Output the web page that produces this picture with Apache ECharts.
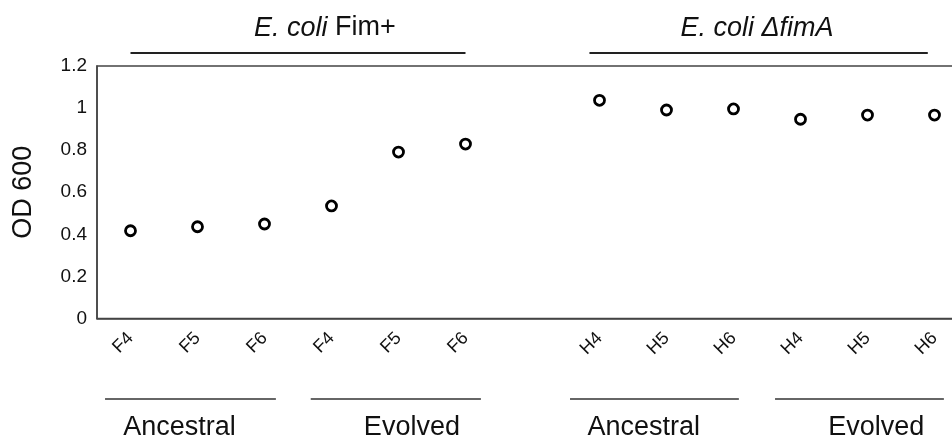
<!DOCTYPE html>
<html>
<head>
<meta charset="utf-8">
<script src="https://cdn.jsdelivr.net/npm/echarts@6/dist/echarts.min.js"></script>
<style>
html,body{margin:0;padding:0;background:#fff;}
#chart{width:952px;height:441px;}
</style>
</head>
<body>
<div id="chart"></div>
<script>
// ---- data ----
const categories = ['F4','F5','F6','F4','F5','F6','','H4','H5','H6','H4','H5','H6'];
const odValues = [0.417,0.436,0.449,0.535,0.791,0.829,null,1.037,0.991,0.996,0.947,0.967,0.967];
const yTicks = [0,0.2,0.4,0.6,0.8,1,1.2];
const yAxisTitle = 'OD 600';
// header groups (category-unit spans)
const headerLabels = ['{i|E. coli} Fim+', '{i|E. coli ΔfimA}'];
const headerSpans = [[0,5],[6.85,11.9]];
const headerCenters = [2.9, 9.35];
// bottom groups
const bottomLabels = ['Ancestral','Evolved','Ancestral','Evolved'];
const bottomSpans = [[-0.38,2.17],[2.69,5.23],[6.56,9.08],[9.62,12.14]];
const bottomCenters = [0.73,4.2,7.66,11.13];

const FONT = 'Liberation Sans, Arial, sans-serif';
const chart = echarts.init(document.getElementById('chart'), null, {renderer:'canvas'});
const option = {
  animation:false,
  backgroundColor:'#fff',
  grid:{left:97, top:66, width:871, height:252.5, show:true, borderColor:'#444', borderWidth:1.5,
        backgroundColor:'transparent', containLabel:false, outerBoundsMode:'none'},
  xAxis:{
    type:'category', data:categories, boundaryGap:true,
    axisLine:{show:true, lineStyle:{color:'#444', width:1.5}},
    axisTick:{show:false},
    axisLabel:{rotate:45, margin:17, fontSize:18, color:'#111', fontFamily:FONT, interval:0},
    splitLine:{show:false}
  },
  yAxis:{
    type:'value', min:yTicks[0], max:yTicks[yTicks.length-1], interval:0.2,
    axisLine:{show:true, lineStyle:{color:'#444', width:1.5}},
    axisTick:{show:false},
    splitLine:{show:false},
    axisLabel:{fontSize:19, color:'#111', fontFamily:FONT, margin:10},
    name:yAxisTitle, nameLocation:'middle', nameGap:60, nameRotate:90,
    nameTextStyle:{fontSize:27, color:'#111', fontFamily:FONT}
  },
  series:[{
    type:'scatter', data:odValues, symbol:'circle', symbolSize:10,
    itemStyle:{color:'#fff', borderColor:'#000', borderWidth:2.8, opacity:1}
  }]
};
chart.setOption(option);

function catX(f){
  const p0 = chart.convertToPixel({xAxisIndex:0}, 0);
  const p1 = chart.convertToPixel({xAxisIndex:0}, 1);
  return p0 + f*(p1-p0);
}
const topY = chart.convertToPixel({yAxisIndex:0}, 1.2);
const botY = chart.convertToPixel({yAxisIndex:0}, 0);
const g = [];
headerSpans.forEach((s,i)=>{
  g.push({type:'line', shape:{x1:catX(s[0]), y1:topY-13, x2:catX(s[1]), y2:topY-13}, style:{stroke:'#222', lineWidth:2}});
  g.push({type:'text', x:catX(headerCenters[i]), y:topY-38, style:{
    text:headerLabels[i], align:'center', verticalAlign:'middle', fill:'#111',
    font:'27px '+FONT, rich:{i:{fontStyle:'italic', fontSize:27, fontFamily:FONT, fill:'#111'}}
  }});
});
bottomSpans.forEach((s,i)=>{
  g.push({type:'line', shape:{x1:catX(s[0]), y1:botY+80.5, x2:catX(s[1]), y2:botY+80.5}, style:{stroke:'#333', lineWidth:1.6}});
  g.push({type:'text', x:catX(bottomCenters[i]), y:botY+109, style:{
    text:bottomLabels[i], align:'center', verticalAlign:'middle', fill:'#111', font:'27px '+FONT
  }});
});
chart.setOption({graphic:g});
</script>
</body>
</html>
